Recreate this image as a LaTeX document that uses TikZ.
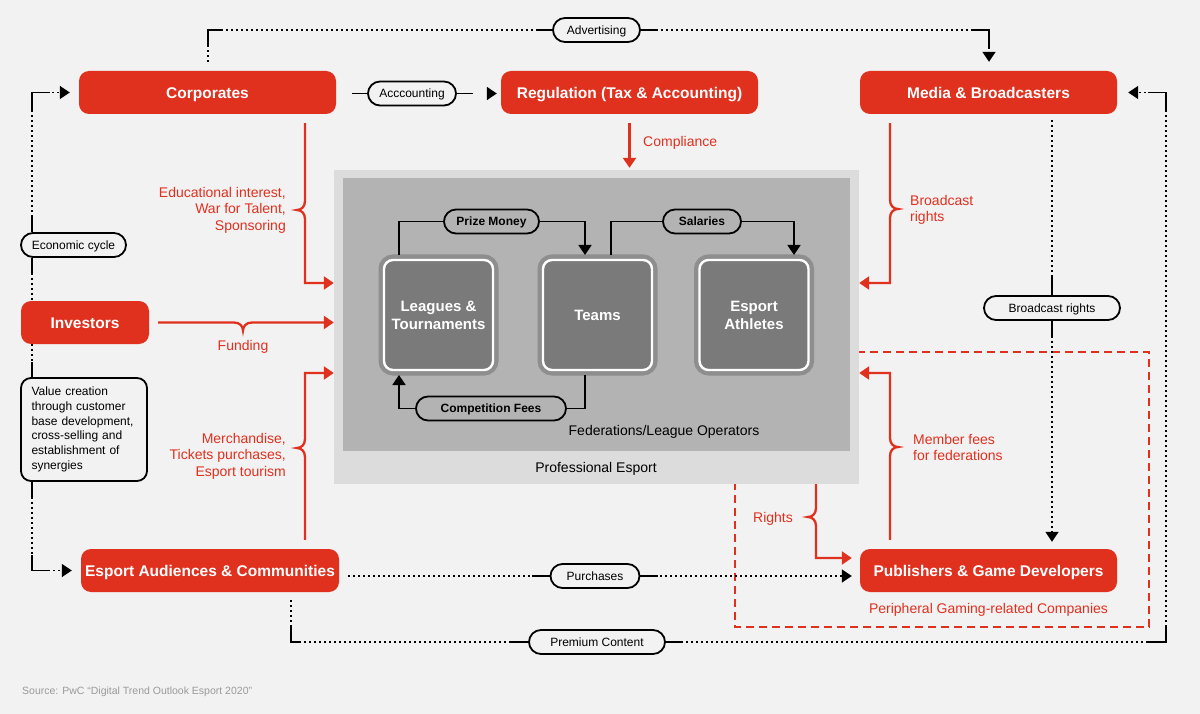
\documentclass[tikz,border=0pt]{standalone}
\usepackage{fontspec}
\setmainfont{Liberation Sans}
\usetikzlibrary{arrows.meta}

\definecolor{pwcred}{HTML}{E0301E}
\definecolor{bggray}{HTML}{F2F2F2}
\definecolor{outergray}{HTML}{DCDCDC}
\definecolor{innergray}{HTML}{B3B3B3}
\definecolor{unitgray}{HTML}{7A7A7A}
\definecolor{rimgray}{HTML}{8E8E8E}
\definecolor{srcgray}{HTML}{9A9A9A}

\newcommand{\boxfont}{\fontsize{15.5}{18}\selectfont\bfseries}
\newcommand{\unitfont}{\fontsize{15}{18}\selectfont\bfseries}
\newcommand{\pillfont}{\fontsize{12}{14}\selectfont}
\newcommand{\pillbold}{\fontsize{12}{14}\selectfont\bfseries}
\newcommand{\redfont}{\fontsize{14}{16.5}\selectfont}
\newcommand{\notefont}{\fontsize{12}{14.7}\selectfont}
\newcommand{\capfont}{\fontsize{14}{16}\selectfont}
\newcommand{\srcfont}{\fontsize{10.5}{12}\selectfont}

% brace on a vertical red line: x, y of tip, vertical dir, side of tip
\newcommand{\bracev}[4]{-- (#1,{#2-9*(#3)}) .. controls (#1,{#2-3*(#3)}) and ({#1+4*(#4)},#2) .. ({#1+8*(#4)},#2) .. controls ({#1+4*(#4)},#2) and (#1,{#2+3*(#3)}) .. (#1,{#2+9*(#3)})}

\begin{document}
\begin{tikzpicture}[x=1pt, y=-1pt]
    \tikzstyle{block} = [rectangle, fill=pwcred, rounded corners=10pt, text=white, font=\boxfont, minimum width=257pt, minimum height=43pt, inner sep=0pt, text height=11.2pt, text depth=0pt]
    \tikzstyle{pill} = [rectangle, draw, line width=1.8pt, rounded corners=12pt, fill=bggray, font=\pillfont, minimum height=24pt, inner sep=0pt, text height=8.7pt, text depth=0pt]
    \tikzstyle{unit} = [rectangle, rounded corners=9pt, fill=unitgray, draw=white, line width=2.4pt, preaction={draw=rimgray, line width=11pt}, text=white, font=\unitfont, align=center, minimum width=109pt, minimum height=110pt, outer sep=5pt]
    \tikzstyle{redlabel} = [text=pwcred, font=\redfont, inner sep=0pt]
    \tikzstyle{redarrow} = [line width=2.3pt, pwcred, -{Triangle[width=13pt,length=10pt]}]
    \tikzstyle{dotline} = [line width=1.7pt, dash pattern=on 1.7pt off 3.3pt]
    \tikzstyle{dotarrow} = [dotline, -{Triangle[width=13pt,length=10pt]}]
    \tikzstyle{stub} = [line width=1.8pt]
    \tikzstyle{arrow} = [line width=1.8pt, -{Triangle[width=13pt,length=10pt]}]

    \path[use as bounding box, fill=bggray] (0,0) rectangle (1200,714);

    % peripheral companies frame
    \draw[pwcred, line width=1.8pt, dash pattern=on 8pt off 5pt] (735,352) rectangle (1149,627);

    % professional esport
    \node[fill=outergray, minimum width=525pt, minimum height=314pt, inner sep=0pt] (pro) at (596.5,327) {};
    \node[fill=innergray, minimum width=507pt, minimum height=273pt, inner sep=0pt] (fed) at (596.5,314.5) {};
    \node[font=\capfont] (fedtext) at (664,432) {Federations/League Operators};
    \node[font=\capfont] (protext) at (596,469) {Professional Esport};

    \node[unit] (leagues) at (438.5,315) {Leagues \&\\Tournaments};
    \node[unit] (teams) at (597.5,315) {Teams};
    \node[unit] (athletes) at (754,315) {Esport\\Athletes};

    \node[pill, fill=innergray, font=\pillbold, minimum width=95pt] (prize) at (491.5,221.5) {Prize Money};
    \node[pill, fill=innergray, font=\pillbold, minimum width=78pt] (salary) at (702,221.5) {Salaries};
    \node[pill, fill=innergray, font=\pillbold, minimum width=150pt] (compfee) at (491,408.5) {Competition Fees};

    \draw[stub] (399,0 |- leagues.north) |- (prize.west);
    \draw[arrow] (prize.east) -| (585,0 |- teams.north);
    \draw[stub] (611,0 |- teams.north) |- (salary.west);
    \draw[arrow] (salary.east) -| (794,0 |- athletes.north);
    \draw[stub] (585,0 |- teams.south) |- (compfee.east);
    \draw[arrow] (compfee.west) -| (399,0 |- leagues.south);

    % stakeholders
    \node[block] (corp) at (207.5,92.5) {Corporates};
    \node[block] (reg) at (629.5,92.5) {Regulation (Tax \& Accounting)};
    \node[block] (media) at (988.5,92.5) {Media \& Broadcasters};
    \node[block, minimum width=128pt] (inv) at (85,322.5) {Investors};
    \node[block, minimum width=258pt] (aud) at (210,570.5) {Esport Audiences \& Communities};
    \node[block] (pub) at (988.5,570.5) {Publishers \& Game Developers};

    \node[draw, line width=1.8pt, rounded corners=10pt, fill=bggray, minimum width=126pt, minimum height=103pt, text width=105pt, align=left, font=\notefont, inner sep=0pt] (value) at (84,429.5) {Value creation\\through customer\\base development,\\cross-selling and\\establishment of\\synergies};

    \node[pill, minimum width=105pt] (econ) at (73.5,245) {Economic cycle};
    \node[pill, minimum width=87pt] (adv) at (596.5,30) {Advertising};
    \node[pill, minimum width=88pt] (acc) at (412,93.5) {Acccounting};
    \node[pill, minimum width=136pt] (bcr) at (1052,308) {Broadcast rights};
    \node[pill, minimum width=89pt] (purch) at (595,576) {Purchases};
    \node[pill, minimum width=136pt] (prem) at (597,642) {Premium Content};

    % advertising
    \draw[dotline] (208,0 |- corp.north) ++(0,-9) |- (adv.west);
    \draw[dotarrow, shorten >=9pt] (adv.east) -| (989,0 |- media.north);
    \draw[stub] (208,45) |- (223,30);
    \draw[stub] (adv.west) -- ++(-16,0);
    \draw[stub] (adv.east) -- ++(16,0);
    \draw[stub] (972,30) -| (989,47);

    % accounting
    \draw[stub, shorten <=16pt] (corp.east |- acc.west) -- (acc.west);
    \draw[arrow, dash pattern=on 16pt off 30pt, shorten >=4pt] (acc.east) -- (reg.west |- acc.east);

    % red money flows
    \draw[redarrow, shorten <=9pt, shorten >=2pt] (reg.south) -- (reg.south |- pro.north);
    \node[redlabel, anchor=west] (compl) at (643,143) {Compliance};

    \draw[redarrow] (305,0 |- corp.south) ++(0,9) \bracev{305}{210}{1}{-1} |- (pro.west |- 0,283);
    \node[redlabel, anchor=east, align=right] (corptext) at (286,210) {Educational interest,\\War for Talent,\\Sponsoring};

    \draw[redarrow, shorten <=9pt] (inv.east) -- (234,322.5) .. controls (240,322.5) and (243,326.5) .. (243,330.5) .. controls (243,326.5) and (246,322.5) .. (252,322.5) -- (pro.west |- inv.east);
    \node[redlabel] (fund) at (243,347) {Funding};

    \draw[redarrow] (305,0 |- aud.north) ++(0,-9) \bracev{305}{448}{-1}{-1} |- (pro.west |- 0,373);
    \node[redlabel, anchor=east, align=right] (audtext) at (286,456) {Merchandise,\\Tickets purchases,\\Esport tourism};

    \draw[redarrow] (890,0 |- media.south) ++(0,9) \bracev{890}{209}{1}{1} |- (pro.east |- 0,283);
    \node[redlabel, anchor=west, align=left] (mediatext) at (910,210) {Broadcast\\rights};

    \draw[redarrow] (890,0 |- pub.north) ++(0,-9) \bracev{890}{447}{-1}{1} |- (pro.east |- 0,373);
    \node[redlabel, anchor=west, align=left] (pubtext) at (913,447.5) {Member fees\\for federations};

    \draw[redarrow, shorten >=8pt] (816,0 |- pro.south) \bracev{816}{517}{1}{-1} |- (pub.west |- 0,558);
    \node[redlabel] (rights) at (773,519) {Rights};

    \node[redlabel] (periph) at (988.5,610) {Peripheral Gaming-related Companies};

    % broadcast rights
    \draw[dotline] (1052,0 |- media.south) ++(0,6) -- (bcr.north);
    \draw[dotarrow, shorten >=7pt] (bcr.south) -- (pub.north -| bcr.south);
    \draw[stub] (bcr.north) -- ++(0,-18);
    \draw[stub] (bcr.south) -- ++(0,17);

    % purchases
    \draw[dotline, shorten <=9pt] (aud.east |- purch.west) -- (purch.west);
    \draw[dotarrow, shorten >=8pt] (purch.east) -- (pub.west |- purch.east);
    \draw[stub] (purch.west) -- ++(-18,0);
    \draw[stub] (purch.east) -- ++(18,0);

    % premium content
    \draw[dotline] (291,0 |- aud.south) ++(0,8) |- (prem.west);
    \draw[dotarrow, shorten >=11pt] (prem.east) -| (1166,0 |- media.east) -- (media.east);
    \draw[stub] (291,625) |- (300,642);
    \draw[stub] (prem.west) -- ++(-17,0);
    \draw[stub] (prem.east) -- ++(17,0);
    \draw[stub] (1148,642) -| (1166,625);
    \draw[stub] (1166,110) |- (1148,92.5);

    % economic cycle
    \draw[dotarrow, shorten >=9pt] (32,0 |- econ.north) |- (corp.west);
    \draw[dotline] (32,0 |- econ.south) -- (32,0 |- inv.north);
    \draw[dotline] (32,0 |- inv.south) -- (32,0 |- value.north);
    \draw[dotarrow, shorten >=9pt] (32,0 |- value.south) |- (aud.west);
    \draw[stub] (32,112) |- (50,92.5);
    \draw[stub] (32,0 |- econ.north) -- ++(0,-15);
    \draw[stub] (32,0 |- econ.south) -- ++(0,16);
    \draw[stub] (32,0 |- value.north) -- ++(0,-15);
    \draw[stub] (32,0 |- value.south) -- ++(0,16);
    \draw[stub] (32,555) |- (50,570.5);

    \node[anchor=base west, font=\srcfont, text=srcgray, inner sep=0pt] (src) at (22,694) {Source: PwC “Digital Trend Outlook Esport 2020”};
\end{tikzpicture}
\end{document}
